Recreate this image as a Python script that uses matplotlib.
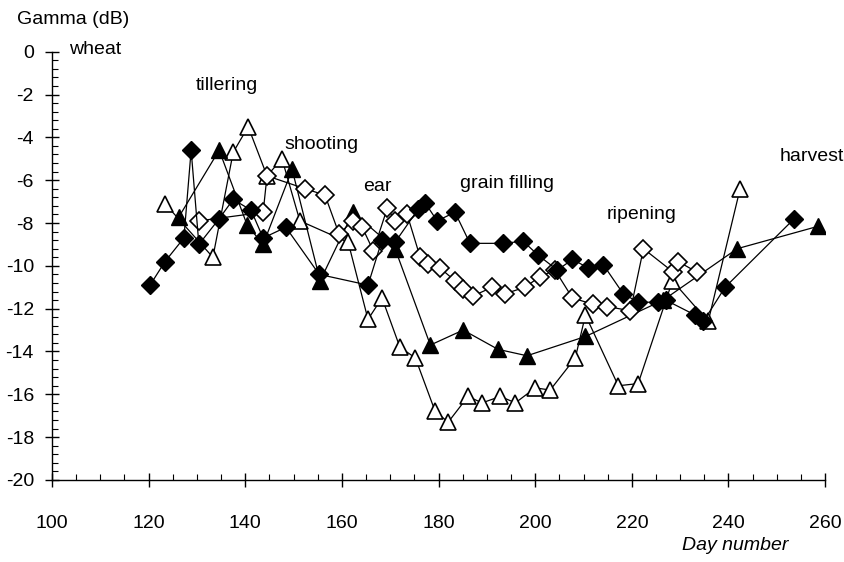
import matplotlib.pyplot as plt
import matplotlib.ticker as mticker

plt.rcParams['font.family'] = ['Liberation Sans', 'DejaVu Sans']
plt.rcParams['axes.unicode_minus'] = False

# filled diamonds
day_fd = [120.3, 123.4, 127.3, 128.8, 130.4, 134.6, 137.5, 141.2, 143.7, 148.4, 155.3, 165.4,
          168.3, 171.0, 175.8, 177.2, 179.7, 183.4, 186.5, 193.4, 197.5, 200.6, 204.6, 207.7,
          211.0, 214.1, 218.2, 221.3, 225.5, 227.0, 233.1, 234.8, 239.3, 253.6]
gam_fd = [-10.9, -9.8, -8.7, -4.6, -9.0, -7.8, -6.9, -7.4, -8.7, -8.2, -10.4, -10.9,
          -8.8, -8.9, -7.35, -7.05, -7.9, -7.5, -8.95, -8.95, -8.85, -9.5, -10.2, -9.7,
          -10.1, -9.95, -11.3, -11.7, -11.7, -11.6, -12.3, -12.6, -11.0, -7.8]

# open diamonds
day_od = [130.4, 143.7, 144.5, 152.4, 156.5, 159.4, 162.3, 164.2, 166.5, 169.4, 171.0, 173.5,
          176.2, 177.8, 180.3, 183.4, 185.1, 187.2, 191.1, 193.8, 197.9, 201.0, 204.1, 207.7,
          212.0, 214.9, 219.7, 222.4, 228.6, 229.6, 233.5]
gam_od = [-7.9, -7.5, -5.8, -6.4, -6.7, -8.5, -7.9, -8.2, -9.3, -7.3, -7.9, -7.6,
          -9.6, -9.9, -10.1, -10.7, -11.1, -11.4, -11.0, -11.3, -11.0, -10.5, -10.2, -11.5,
          -11.8, -11.9, -12.1, -9.2, -10.3, -9.8, -10.3]

# filled triangles
day_ft = [126.3, 134.6, 140.4, 143.7, 149.7, 155.5, 162.3, 171.0, 178.3, 185.1, 192.3, 198.3,
          210.4, 226.5, 241.8, 258.6]
gam_ft = [-7.7, -4.6, -8.1, -9.0, -5.5, -10.7, -7.5, -9.2, -13.7, -13.0, -13.9, -14.2,
          -13.3, -11.6, -9.2, -8.15]

# open triangles
day_ot = [123.4, 133.3, 137.5, 140.6, 144.5, 147.6, 151.3, 161.3, 165.4, 168.3, 172.0, 175.2,
          179.3, 182.0, 186.1, 189.0, 192.8, 195.9, 200.0, 203.1, 208.3, 210.4, 217.2, 221.3,
          228.4, 235.8, 242.4]
gam_ot = [-7.1, -9.6, -4.7, -3.5, -5.8, -5.0, -7.9, -8.9, -12.5, -11.5, -13.8, -14.3,
          -16.8, -17.3, -16.1, -16.4, -16.1, -16.4, -15.7, -15.8, -14.3, -12.3, -15.6, -15.5,
          -10.7, -12.6, -6.4]

stages = ["tillering", "shooting", "ear", "grain filling", "ripening", "harvest"]
stage_x = [136.2, 155.7, 167.3, 194.2, 222.0, 257.3]
stage_y = [-1.6, -4.35, -6.3, -6.15, -7.6, -4.9]

fig = plt.figure(figsize=(8.45, 5.62), dpi=100)
ax = fig.add_axes([0.0615, 0.146, 0.915, 0.762])

lw = 0.9
ax.plot(day_ot, gam_ot, "^-", color="black", mfc="white", mec="black", mew=1.2, ms=12, lw=lw)
ax.plot(day_ft, gam_ft, "^-", color="black", mfc="black", ms=12, lw=lw)
ax.plot(day_od, gam_od, "D-", color="black", mfc="white", mec="black", mew=1.2, ms=9, lw=lw)
ax.plot(day_fd, gam_fd, "D-", color="black", mfc="black", ms=9, lw=lw)

ax.set_xlim(100, 260)
ax.set_ylim(-20, 0)
ax.set_xticks(range(100, 261, 20))
ax.set_yticks(range(-20, 1, 2))
ax.xaxis.set_minor_locator(mticker.MultipleLocator(5))
ax.yaxis.set_minor_locator(mticker.MultipleLocator(0.4))
ax.tick_params(which="major", direction="inout", length=10, width=1.0, labelsize=14)
ax.tick_params(which="minor", direction="in", length=4, width=0.8)
ax.tick_params(axis="x", pad=20)
ax.tick_params(axis="y", pad=8)
for s in ["top", "right"]:
    ax.spines[s].set_visible(False)
ax.spines["left"].set_linewidth(1.0)
ax.spines["bottom"].set_linewidth(1.0)

for t, x, y in zip(stages, stage_x, stage_y):
    ax.text(x, y, t, ha="center", va="center", fontsize=14)

ax.text(103.5, 0.1, "wheat", ha="left", va="center", fontsize=14, clip_on=False)
fig.text(0.02, 0.965, "Gamma (dB)", ha="left", va="center", fontsize=14)
fig.text(0.87, 0.03, "Day number", ha="center", va="center", fontsize=14, style="italic")

fig.savefig("out.png", dpi=100)
